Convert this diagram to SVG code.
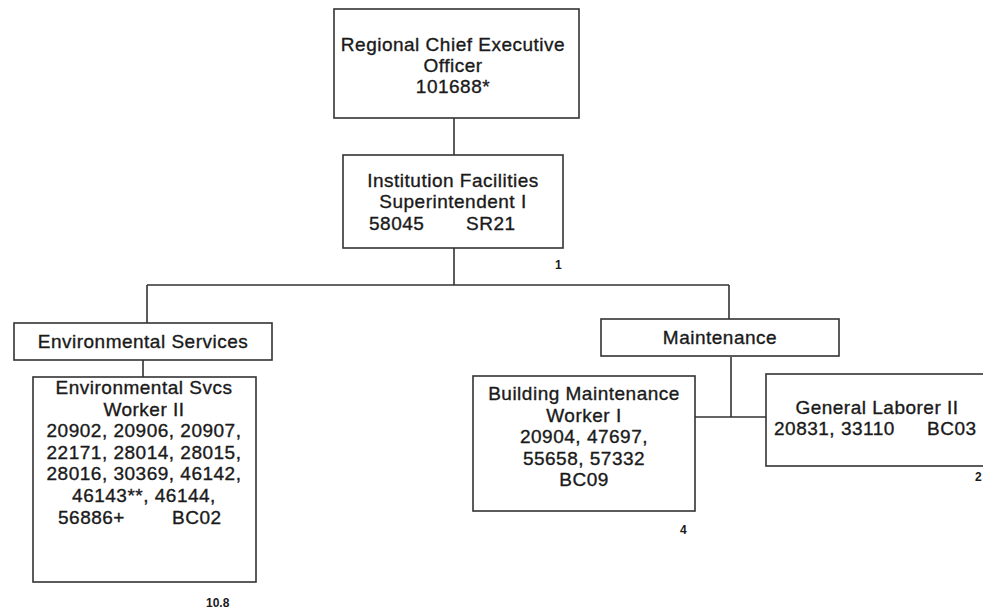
<svg xmlns="http://www.w3.org/2000/svg" width="983" height="614" viewBox="0 0 983 614">
<style>
.box{fill:#fff;stroke:#333;stroke-width:1.6}
.c{fill:none;stroke:#333;stroke-width:1.6}
text{font-family:"Liberation Sans",Arial,sans-serif;font-size:19px;letter-spacing:0.5px;fill:#1a1a1a;stroke:#1a1a1a;stroke-width:0.35}
.m{text-anchor:middle}
.s{font-size:12px;font-weight:bold;stroke-width:0;letter-spacing:0}
</style>
<rect width="983" height="614" fill="#fff"/>
<g id="connectors">
<path class="c" d="M454 118V155M454 248V285M147 285H729M147 285V323M143 360V377M729 285V319M731 357V417M695 417H766"/>
</g>
<g id="rceo">
<rect class="box" x="334" y="9" width="245" height="109"/>
<text class="m" x="453" y="51">Regional Chief Executive</text>
<text class="m" x="453" y="72">Officer</text>
<text class="m" x="453" y="93">101688*</text>
</g>
<g id="ifs">
<rect class="box" x="343" y="155" width="220" height="93"/>
<text class="m" x="453" y="187">Institution Facilities</text>
<text class="m" x="453" y="208">Superintendent I</text>
<text x="369" y="230">58045</text>
<text x="466" y="230">SR21</text>
<text class="s" x="555" y="269">1</text>
</g>
<g id="env">
<rect class="box" x="14" y="323" width="258" height="37"/>
<text class="m" x="143" y="348">Environmental Services</text>
</g>
<g id="esw">
<rect class="box" x="33" y="377" width="223" height="205"/>
<text class="m" x="144" y="394">Environmental Svcs</text>
<text class="m" x="144" y="416">Worker II</text>
<text class="m" x="144" y="437">20902, 20906, 20907,</text>
<text class="m" x="144" y="459">22171, 28014, 28015,</text>
<text class="m" x="144" y="480">28016, 30369, 46142,</text>
<text class="m" x="144" y="502">46143**, 46144,</text>
<text x="58" y="524">56886+</text>
<text x="172" y="524">BC02</text>
<text class="s" x="206" y="607">10.8</text>
</g>
<g id="maint">
<rect class="box" x="601" y="319" width="238" height="37"/>
<text class="m" x="720" y="344">Maintenance</text>
</g>
<g id="bmw">
<rect class="box" x="473" y="376" width="222" height="135"/>
<text class="m" x="584" y="400">Building Maintenance</text>
<text class="m" x="584" y="422">Worker I</text>
<text class="m" x="584" y="443">20904, 47697,</text>
<text class="m" x="584" y="465">55658, 57332</text>
<text class="m" x="584" y="486">BC09</text>
<text class="s" x="680" y="534">4</text>
</g>
<g id="gl">
<rect class="box" x="766" y="374" width="222" height="92"/>
<text class="m" x="877" y="414">General Laborer II</text>
<text x="774" y="435">20831, 33110</text>
<text x="927" y="435">BC03</text>
<text class="s" x="975" y="481">2</text>
</g>
</svg>
